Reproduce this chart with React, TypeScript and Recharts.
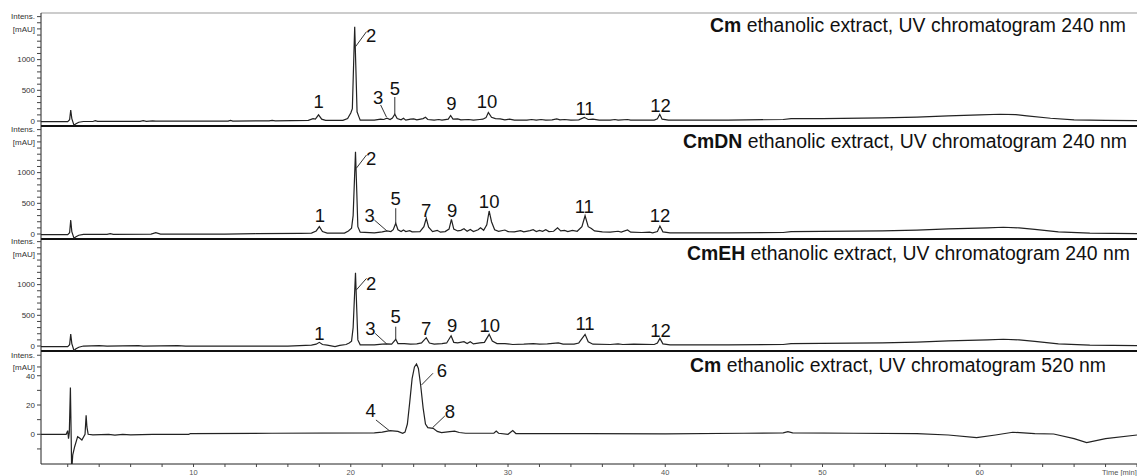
import React from "react";
import {
  LineChart,
  Line,
  XAxis,
  YAxis,
  ReferenceLine,
  ReferenceDot,
} from "recharts";

// retention time [min] vs intensity [mAU]
const cm240: [number, number][] = [
  [0.3, -10], [2.0, -10], [2.12, 20], [2.19, 179], [2.26, 40], [2.4, -70], [2.5, -50],
  [2.7, -20], [3.0, -8], [3.6, -8], [3.75, 5], [3.9, -6], [6.6, -5], [6.8, 5], [7.0, -5],
  [7.4, 2], [7.6, -3], [12.2, 0], [12.35, 10], [12.5, 0], [14.8, 2], [15.0, 10], [15.2, 4],
  [17.3, 10], [17.6, 40], [17.75, 30], [17.95, 100], [18.15, 30], [18.4, 10], [19.5, 10],
  [19.8, 40], [20.0, 130], [20.1, 200], [20.2, 1100], [20.25, 1536], [20.32, 900],
  [20.4, 150], [20.5, 80], [20.6, 15], [21.5, 15], [21.9, 30], [22.1, 25], [22.3, 45],
  [22.5, 25], [22.65, 50], [22.8, 110], [22.95, 40], [23.2, 20], [23.35, 45], [23.5, 15],
  [23.8, 30], [24.0, 35], [24.2, 20], [24.6, 40], [24.75, 60], [24.9, 25], [25.3, 15],
  [25.6, 25], [25.8, 15], [26.2, 30], [26.35, 90], [26.5, 30], [26.8, 35], [27.0, 20],
  [27.5, 25], [27.8, 15], [28.2, 25], [28.4, 30], [28.6, 55], [28.75, 140], [28.95, 60],
  [29.2, 40], [29.5, 35], [29.8, 20], [30.1, 30], [30.4, 15], [31.2, 15], [31.5, 25],
  [31.8, 15], [32.1, 25], [32.4, 15], [32.8, 20], [33.1, 35], [33.3, 20], [33.6, 25],
  [34.0, 15], [34.5, 20], [34.85, 60], [35.1, 25], [35.4, 30], [35.8, 15], [36.5, 15],
  [36.8, 25], [37.0, 15], [37.6, 25], [37.8, 15], [39.3, 15], [39.5, 35], [39.65, 110],
  [39.8, 30], [40.2, 15], [44, 15], [47.5, 25], [48.0, 40], [50, 40], [53.8, 50], [56, 65],
  [58, 85], [60, 100], [61.3, 110], [62.3, 105], [63.0, 85], [64.5, 45], [66, 20],
  [68, 10], [70, 8],
];

const cmdn240: [number, number][] = [
  [0.3, -10], [2.0, -10], [2.12, 20], [2.19, 228], [2.26, 40], [2.4, -70], [2.5, -50],
  [2.7, -20], [3.0, -5], [4.5, -5], [4.7, 5], [4.9, -5], [7.3, 0], [7.6, 21], [7.9, 0],
  [12, 0], [14, 5], [16.8, 10], [17.5, 15], [17.8, 50], [18.0, 120], [18.2, 40], [18.5, 15],
  [19.6, 15], [19.85, 50], [20.05, 95], [20.15, 300], [20.3, 1341], [20.38, 700],
  [20.45, 120], [20.6, 30], [21.5, 20], [22.0, 35], [22.3, 50], [22.55, 40], [22.7, 70],
  [22.86, 174], [23.0, 70], [23.2, 40], [23.35, 65], [23.5, 40], [23.75, 55], [23.9, 35],
  [24.4, 40], [24.65, 120], [24.8, 255], [24.95, 110], [25.2, 40], [25.5, 60], [25.7, 30],
  [26.0, 40], [26.25, 80], [26.4, 239], [26.55, 80], [26.8, 50], [27.0, 60], [27.2, 85],
  [27.4, 45], [27.6, 75], [27.8, 40], [28.1, 70], [28.25, 100], [28.45, 60], [28.65, 150],
  [28.8, 375], [28.95, 200], [29.15, 70], [29.4, 45], [29.8, 65], [30.0, 40], [30.4, 35],
  [30.8, 55], [31.0, 35], [31.4, 55], [31.6, 70], [31.8, 40], [32.0, 60], [32.2, 45],
  [32.4, 70], [32.6, 40], [32.9, 45], [33.15, 100], [33.35, 50], [33.6, 60], [33.8, 40],
  [34.1, 60], [34.4, 45], [34.7, 120], [34.9, 298], [35.1, 120], [35.3, 90], [35.5, 50],
  [36.0, 35], [36.5, 30], [37.0, 45], [37.2, 30], [37.6, 65], [37.8, 30], [38.5, 25],
  [39.0, 30], [39.2, 20], [39.5, 40], [39.66, 130], [39.85, 35], [40.3, 20], [44, 20],
  [47.5, 25], [48.0, 40], [53.8, 50], [56, 65], [58, 85], [60.5, 100], [61.5, 110],
  [62.5, 100], [63.5, 75], [65, 35], [67, 15], [70, 8],
];

const cmeh240: [number, number][] = [
  [0.3, -10], [2.0, -10], [2.12, 20], [2.19, 195], [2.26, 40], [2.4, -77], [2.5, -50],
  [2.7, -20], [3.0, 0], [4, 5], [4.5, 0], [6.5, 5], [6.8, 0], [9, 5], [9.5, 0], [12, 0],
  [16, 0], [17.5, 15], [17.8, 30], [18.0, 60], [18.2, 25], [18.5, 15], [19.0, -10],
  [19.3, 10], [19.7, 25], [19.9, 50], [20.05, 80], [20.15, 300], [20.3, 1194], [20.38, 600],
  [20.45, 100], [20.6, 20], [21.5, 20], [22.0, 30], [22.3, 35], [22.6, 30], [22.86, 109],
  [23.0, 40], [23.4, 40], [23.8, 30], [24.2, 35], [24.5, 50], [24.8, 136], [25.0, 50],
  [25.3, 30], [25.8, 40], [26.1, 50], [26.38, 168], [26.55, 60], [26.8, 50], [27.2, 70],
  [27.4, 40], [27.6, 70], [27.8, 35], [28.2, 50], [28.5, 60], [28.8, 190], [29.0, 80],
  [29.3, 40], [29.8, 40], [30.3, 25], [31, 30], [31.6, 40], [32, 30], [32.5, 35], [33.2, 50],
  [33.5, 30], [34.2, 30], [34.5, 50], [34.9, 190], [35.1, 70], [35.4, 30], [36.5, 25],
  [37.0, 35], [37.3, 25], [38, 30], [39.3, 25], [39.5, 50], [39.66, 125], [39.85, 35],
  [40.3, 20], [44, 20], [47.5, 25], [48, 40], [53.8, 50], [56, 65], [58, 85], [60.5, 100],
  [61.5, 110], [62.5, 100], [63.5, 75], [65, 35], [67, 15], [70, 8],
];

const cm520: [number, number][] = [
  [0.3, 0], [1.9, 0], [2.0, 2.5], [2.05, -3], [2.1, 1], [2.17, 32], [2.21, 5], [2.25, -25],
  [2.32, -14], [2.44, -8.5], [2.63, -1.6], [2.75, -2.5], [2.9, -3.9], [3.1, 0], [3.17, 13],
  [3.22, 5], [3.3, 0], [3.6, -0.4], [4.6, 0], [5.0, -0.6], [5.5, 0], [6, -0.4], [7.4, 0],
  [9.7, 0], [9.8, 0.5], [15, 0.7], [21.5, 1], [22.0, 1.5], [22.5, 2.5], [23.0, 2],
  [23.3, 0.7], [23.45, 1.5], [23.6, 7], [23.75, 22], [23.9, 38], [24.05, 46], [24.18, 48],
  [24.3, 45], [24.45, 33], [24.6, 18], [24.75, 7], [24.9, 4.5], [25.24, 4.1], [25.5, 2],
  [25.77, 1.1], [26.3, 1.8], [26.6, 2.2], [26.9, 1.2], [27.3, 0.7], [29.1, 0.7], [29.25, 2.2],
  [29.4, 0.7], [30.0, 0], [30.3, 2.5], [30.5, 0.5], [35, 0.5], [40, 0.3], [45, 0.7],
  [47.5, 1], [47.8, 1.8], [48.1, 1], [52, 0.7], [56, 0.5], [58, -0.5], [59.8, -2.3],
  [61, -0.5], [62.1, 1.4], [63.5, 0.5], [64.7, 0.2], [66, -3], [66.8, -5.7], [68, -3],
  [70, -0.5],
];

// peak numbers: [label, time, intensity]
const cm240Peaks: [string, number, number][] = [
  ["1", 17.95, 318], ["2", 21.3, 1401], ["3", 21.74, 391], ["5", 22.8, 533],
  ["9", 26.4, 288], ["10", 28.67, 314], ["11", 34.9, 207], ["12", 39.7, 261],
];
const cmdn240Peaks: [string, number, number][] = [
  ["1", 18.03, 309], ["2", 21.3, 1233], ["3", 21.2, 309], ["5", 22.86, 581],
  ["7", 24.8, 391], ["9", 26.45, 391], ["10", 28.8, 527], ["11", 34.85, 445], ["12", 39.66, 309],
];
const cmeh240Peaks: [string, number, number][] = [
  ["1", 18.0, 206], ["2", 21.3, 1021], ["3", 21.25, 288], ["5", 22.86, 478],
  ["7", 24.8, 288], ["9", 26.45, 342], ["10", 28.84, 342], ["11", 34.9, 369], ["12", 39.7, 261],
];
const cm520Peaks: [string, number, number][] = [
  ["4", 21.27, 16.6], ["6", 25.8, 43.9], ["8", 26.3, 15.4],
];

// leader lines: [t1, v1, t2, v2]
const cm240Leaders = [[20.3, 1210, 21.0, 1455], [21.9, 261, 22.27, 65], [22.8, 391, 22.8, 110]];
const cmdn240Leaders = [[20.35, 1070, 21.0, 1287], [21.5, 228, 22.3, 50], [22.86, 420, 22.86, 174]];
const cmeh240Leaders = [[20.35, 912, 21.0, 1102], [21.55, 206, 22.3, 30], [22.86, 315, 22.86, 109]];
const cm520Leaders = [[21.6, 9.8, 22.45, 2.5], [25.23, 41.7, 24.5, 33.7], [25.98, 12.5, 25.2, 4.5]];

const uvTicks = [0, 100, 200, 300, 400, 500, 600, 700, 800, 900, 1000, 1100, 1200, 1300, 1400, 1500, 1600, 1700];
const visTicks = [-10, 0, 10, 20, 30, 40, 46, 54];
const timeTicks = [2, 4, 6, 8, 10, 12, 14, 16, 18, 20, 22, 24, 26, 28, 30, 32, 34, 36, 38, 40, 42, 44, 46, 48, 50, 52, 54, 56, 58, 60, 62, 64, 66, 68, 70];

const titles = [
  { bold: "Cm", rest: " ethanolic extract, UV chromatogram 240 nm", x: 710, y: 31.5 },
  { bold: "CmDN", rest: " ethanolic extract, UV chromatogram 240 nm", x: 683, y: 148.3 },
  { bold: "CmEH", rest: " ethanolic extract, UV chromatogram 240 nm", x: 687, y: 260 },
  { bold: "Cm", rest: " ethanolic extract, UV chromatogram 520 nm", x: 690, y: 372.3 },
];

const FONT = "'Liberation Sans', Arial, sans-serif";
const W = 1137;
const INK = "#222";

const uvFormat = (v: number) => {
  if (v === 1700) return "Intens.";
  if (v === 1500) return "[mAU]";
  if (v === 0 || v === 500 || v === 1000) return String(v);
  return "";
};
const visFormat = (v: number) => {
  if (v === 54) return "Intens.";
  if (v === 46) return "[mAU]";
  if (v === 0 || v === 20 || v === 40) return String(v);
  return "";
};

function TimeTick(props: any) {
  const { x, y, payload } = props;
  const v = payload.value;
  if (v === 70) {
    return (
      <text x={x - 35} y={y} dy="0.71em" fontSize={7.5} fill="#555" fontFamily={FONT}>
        Time [min]
      </text>
    );
  }
  if (v % 10 !== 0) return <g />;
  return (
    <text x={x} y={y} dy="0.71em" textAnchor="middle" fontSize={7.5} fill="#555" fontFamily={FONT}>
      {v}
    </text>
  );
}

function Panel({
  series,
  peaks,
  leaders,
  domain,
  ticks,
  format,
  top,
  plotHeight,
  last,
  topLine,
}: {
  series: [number, number][];
  peaks: [string, number, number][];
  leaders: number[][];
  domain: [number, number];
  ticks: number[];
  format: (v: number) => string;
  top: number;
  plotHeight: number;
  last?: boolean;
  topLine?: boolean;
}) {
  const data = series.map(([t, v]) => ({ t, v }));
  const axisH = last ? 12 : 0;
  return (
    <div style={{ position: "absolute", left: 0, top: top - 1 }}>
      <LineChart
        width={W}
        height={plotHeight + 2 + axisH}
        data={data}
        margin={{ top: 1, right: 0, left: 0, bottom: 1 }}
      >
        <XAxis
          dataKey="t"
          type="number"
          domain={[0.3, 70]}
          allowDataOverflow
          hide={!last}
          height={axisH}
          ticks={timeTicks}
          interval={0}
          tick={<TimeTick />}
          tickSize={3}
          tickMargin={3}
          axisLine={{ stroke: INK }}
          tickLine={{ stroke: "#444" }}
        />
        <YAxis
          type="number"
          domain={domain}
          allowDataOverflow
          width={41}
          ticks={ticks}
          interval={0}
          tickFormatter={format}
          tick={{ fontSize: 8, fill: "#333", fontFamily: FONT }}
          tickSize={4}
          tickMargin={2}
          axisLine={{ stroke: INK }}
          tickLine={{ stroke: "#444" }}
        />
        {topLine && <ReferenceLine y={domain[1]} stroke="#999" strokeWidth={1} />}
        {!last && <ReferenceLine y={domain[0]} stroke="#111" strokeWidth={2} />}
        <Line
          type="linear"
          dataKey="v"
          stroke={INK}
          strokeWidth={1.2}
          dot={false}
          isAnimationActive={false}
        />
        {leaders.map((s, i) => (
          <ReferenceLine
            key={"l" + i}
            segment={[
              { x: s[0], y: s[1] },
              { x: s[2], y: s[3] },
            ]}
            stroke="#333"
            strokeWidth={1}
            ifOverflow="visible"
          />
        ))}
        {peaks.map(([lab, t, v]) => (
          <ReferenceDot
            key={"p" + lab}
            x={t}
            y={v}
            r={0}
            fill="none"
            stroke="none"
            ifOverflow="visible"
            label={{ value: lab, position: "center", fontSize: 18.5, fill: "#111", fontFamily: FONT }}
          />
        ))}
      </LineChart>
    </div>
  );
}

export default function App() {
  return (
    <div
      style={{
        position: "absolute",
        left: 0,
        top: 0,
        width: W,
        height: 476,
        background: "#fff",
        fontFamily: FONT,
      }}
    >
      <Panel series={cm240} peaks={cm240Peaks} leaders={cm240Leaders} domain={[-81, 1759]}
        ticks={uvTicks} format={uvFormat} top={13} plotHeight={113} topLine />
      <Panel series={cmdn240} peaks={cmdn240Peaks} leaders={cmdn240Leaders} domain={[-81, 1759]}
        ticks={uvTicks} format={uvFormat} top={126} plotHeight={113} />
      <Panel series={cmeh240} peaks={cmeh240Peaks} leaders={cmeh240Leaders} domain={[-81, 1743]}
        ticks={uvTicks} format={uvFormat} top={239} plotHeight={112} />
      <Panel series={cm520} peaks={cm520Peaks} leaders={cm520Leaders} domain={[-20.3, 56.9]}
        ticks={visTicks} format={visFormat} top={351} plotHeight={113} last />
      <svg
        width={W}
        height={476}
        style={{ position: "absolute", left: 0, top: 0, pointerEvents: "none" }}
      >
        {titles.map((tt, i) => (
          <text key={i} x={tt.x} y={tt.y} fontSize={19.4} fill="#111" fontFamily={FONT}>
            <tspan fontWeight="bold">{tt.bold}</tspan>
            {tt.rest}
          </text>
        ))}
      </svg>
    </div>
  );
}
